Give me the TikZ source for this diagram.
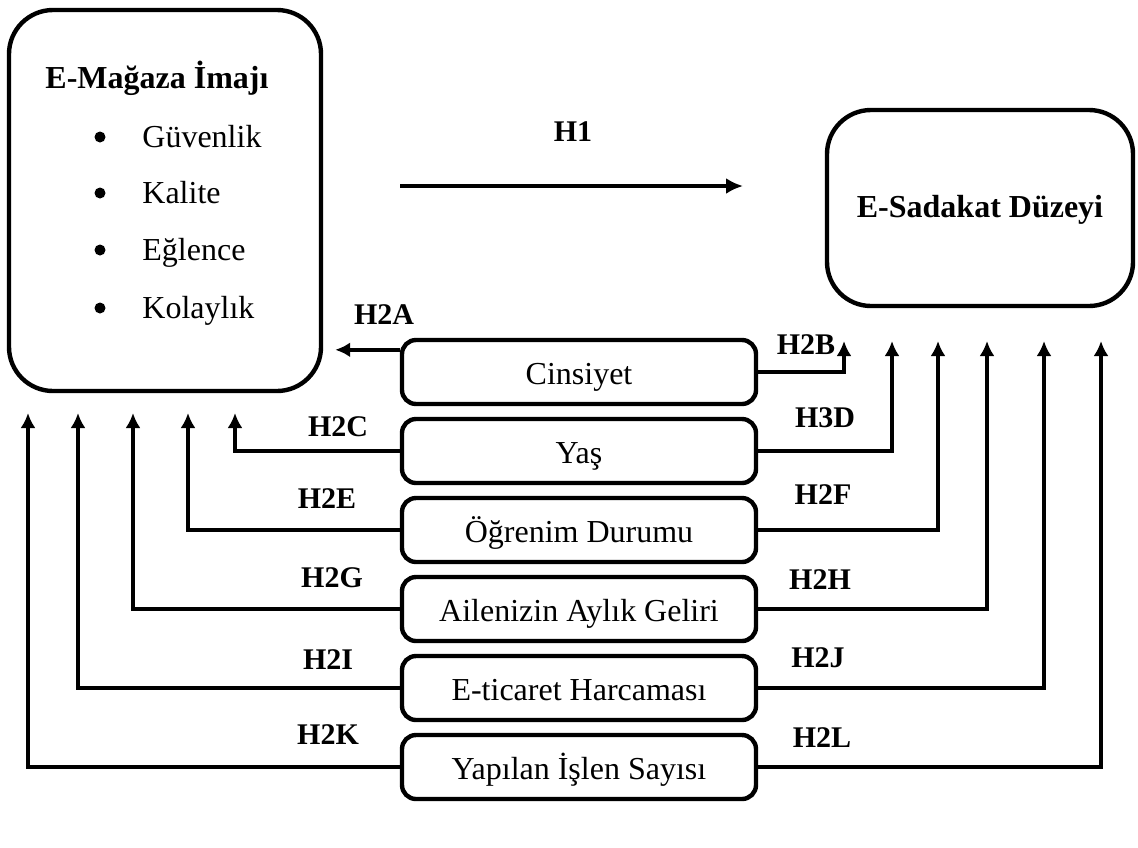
\documentclass[tikz,border=0pt]{standalone}
\usepackage{fontspec}
\setmainfont{Liberation Serif}
\usetikzlibrary{arrows.meta}

\begin{document}
\begin{tikzpicture}[x=0.5pt, y=-0.5pt, >={Latex[length=7.5pt,width=7.5pt]},
    font=\fontsize{16pt}{19pt}\selectfont,
    buyukkutu/.style={draw, line width=2.2pt, rounded corners=22pt, inner sep=0pt},
    kutu/.style={draw, line width=2.2pt, rounded corners=7pt, minimum width=177pt,
        minimum height=32pt, inner sep=0pt, text height=14pt, text depth=2pt},
    ok/.style={->, line width=2pt},
    etiket/.style={font=\fontsize{15pt}{18pt}\selectfont\bfseries, inner sep=1pt}]
    \useasboundingbox (0,0) rectangle (1138,847);

    % Ana kutular
    \node[buyukkutu, minimum width=156pt, minimum height=190.5pt] (imaj) at (165,200.5) {};
    \node[buyukkutu, minimum width=153pt, minimum height=98pt, text height=12pt, text depth=3pt,
        font=\fontsize{16pt}{19pt}\selectfont\bfseries] (sadakat) at (980,208) {E-Sadakat Düzeyi};

    % E-Mağaza İmajı içeriği
    \node[font=\fontsize{16pt}{19pt}\selectfont\bfseries, anchor=base] (baslik) at (157,88) {E-Mağaza İmajı};
    \foreach \y/\ad/\isim in {147/guv/Güvenlik, 203/kal/Kalite, 260/egl/Eğlence, 318/kol/Kolaylık} {
        \node[circle, fill, inner sep=0pt, minimum size=5.5pt] (n\ad) at (100,\y-10) {};
        \node[anchor=base west, inner sep=0pt] (\ad) at (142,\y) {\isim};
    }

    % H1
    \coordinate (h1bas) at (400,186);
    \coordinate (h1son) at (743,186);
    \draw[->, line width=2.4pt, >={Latex[length=8.5pt,width=8pt]}] (h1bas) -- (h1son);
    \node[etiket] (lh1) at (573,132) {H1};

    % Değişken kutuları
    \node[kutu] (cins) at (579,372) {Cinsiyet};
    \node[kutu] (yas) at (579,451) {Yaş};
    \node[kutu] (ogr) at (579,530) {Öğrenim Durumu};
    \node[kutu] (gelir) at (579,609) {Ailenizin Aylık Geliri};
    \node[kutu] (harc) at (579,688) {E-ticaret Harcaması};
    \node[kutu] (islem) at (579,767) {Yapılan İşlen Sayısı};

    % Ok uçları
    \coordinate (solC) at (235,413);
    \coordinate (solE) at (188,413);
    \coordinate (solG) at (133,413);
    \coordinate (solI) at (78,413);
    \coordinate (solK) at (28,413);
    \coordinate (sagB) at (844,341);
    \coordinate (sagD) at (892,341);
    \coordinate (sagF) at (938,341);
    \coordinate (sagH) at (987,341);
    \coordinate (sagJ) at (1044,341);
    \coordinate (sagL) at (1101,341);

    % Sol oklar
    \draw[ok, shorten >=6pt] ([yshift=-6pt]cins.north west) -- ([yshift=-6pt]cins.north west -| imaj.east);
    \draw[ok] (yas.west) -| (solC);
    \draw[ok] (ogr.west) -| (solE);
    \draw[ok] (gelir.west) -| (solG);
    \draw[ok] (harc.west) -| (solI);
    \draw[ok] (islem.west) -| (solK);

    % Sağ oklar
    \draw[ok] (cins.east) -| (sagB);
    \draw[ok] (yas.east) -| (sagD);
    \draw[ok] (ogr.east) -| (sagF);
    \draw[ok] (gelir.east) -| (sagH);
    \draw[ok] (harc.east) -| (sagJ);
    \draw[ok] (islem.east) -| (sagL);

    % Etiketler
    \node[etiket] (lh2a) at (384,315) {H2A};
    \node[etiket] (lh2b) at (806,345) {H2B};
    \node[etiket] (lh2c) at (338,427) {H2C};
    \node[etiket] (lh3d) at (825,418) {H3D};
    \node[etiket] (lh2e) at (327,499) {H2E};
    \node[etiket] (lh2f) at (823,495) {H2F};
    \node[etiket] (lh2g) at (332,578) {H2G};
    \node[etiket] (lh2h) at (820,580) {H2H};
    \node[etiket] (lh2i) at (328,660) {H2I};
    \node[etiket] (lh2j) at (818,658) {H2J};
    \node[etiket] (lh2k) at (328,735) {H2K};
    \node[etiket] (lh2l) at (822,738) {H2L};
\end{tikzpicture}
\end{document}
